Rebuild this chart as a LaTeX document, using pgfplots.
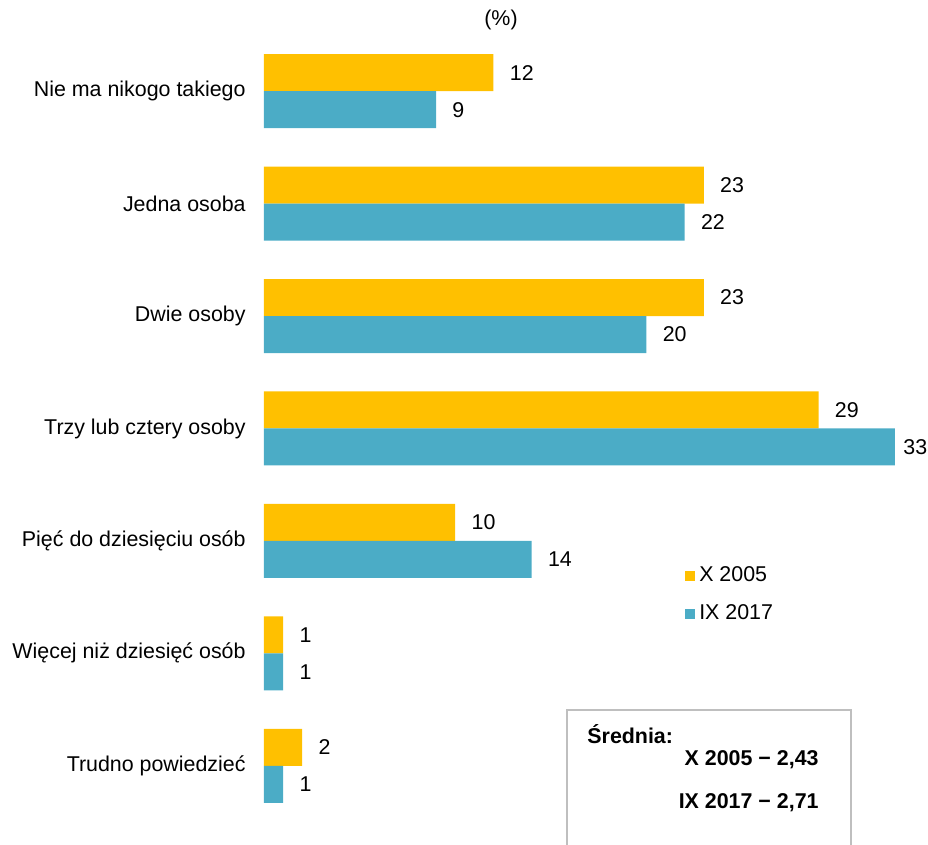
\documentclass[border=0pt]{standalone}
\usepackage{pgfplots}
\pgfplotsset{compat=1.18}
\usepackage{fontspec}
\setmainfont{Liberation Sans}
\definecolor{barYellow}{HTML}{FFC000}
\definecolor{barBlue}{HTML}{4BACC6}
\definecolor{boxGray}{HTML}{BFBFBF}
\newcommand{\lbl}{\fontsize{10.7pt}{12.8pt}\selectfont}

\begin{document}
\begin{tikzpicture}
\path[use as bounding box] (0,0) rectangle (464pt,422.5pt);
\begin{axis}[
  at={(132pt,11.5pt)}, anchor=south west,
  scale only axis, width=315.5pt, height=393.5pt,
  xbar, xmin=0, xmax=33, ymin=-0.5, ymax=6.5,
  bar width=18.5pt,
  axis line style={draw=none},
  major tick length=0pt,
  xtick=\empty,
  ytick={0,...,6},
  yticklabels={Trudno powiedzieć, Więcej niż dziesięć osób, Pięć do dziesięciu osób, Trzy lub cztery osoby, Dwie osoby, Jedna osoba, Nie ma nikogo takiego},
  yticklabel style={font=\lbl, inner sep=0pt},
  yticklabel shift=9pt,
  /pgf/number format/assume math mode=true,
  visualization depends on={x \as \rawx},
  nodes near coords,
  nodes near coords style={font=\lbl, anchor=west, inner sep=0pt,
    xshift={ifthenelse(\rawx>30,4,8)*1pt}},
  clip=false,
  legend image code/.code={\fill (0pt,-2.5pt) rectangle (5pt,2.5pt);},
  legend style={draw=none, fill=none, font=\lbl, inner sep=0pt,
    at={(axis description cs:0.667,0.33)}, anchor=north west,
    row sep=6pt, cells={anchor=west}},
]
\addplot[fill=barYellow, draw=none, bar shift=9.25pt] coordinates {(12,6) (23,5) (23,4) (29,3) (10,2) (1,1) (2,0)};
\addplot[fill=barBlue, draw=none, bar shift=-9.25pt] coordinates {(9,6) (22,5) (20,4) (33,3) (14,2) (1,1) (1,0)};
\legend{X 2005, IX 2017}
\end{axis}
\begin{scope}[x=0.5pt, y=-0.5pt, shift={(0,422.5pt)}]
\draw[boxGray, line width=0.75pt] (567,846) -- (567,710) -- (851,710) -- (851,846);
\node[anchor=west, font=\lbl\bfseries, inner sep=0pt] at (587,734) {Średnia:};
\node[anchor=east, font=\lbl\bfseries, inner sep=0pt] at (819,760) {X 2005 − 2,43};
\node[anchor=east, font=\lbl\bfseries, inner sep=0pt] at (819,803) {IX 2017 − 2,71};
\node[font=\lbl, inner sep=0pt] at (501,20) {(\%)};
\end{scope}
\end{tikzpicture}
\end{document}
